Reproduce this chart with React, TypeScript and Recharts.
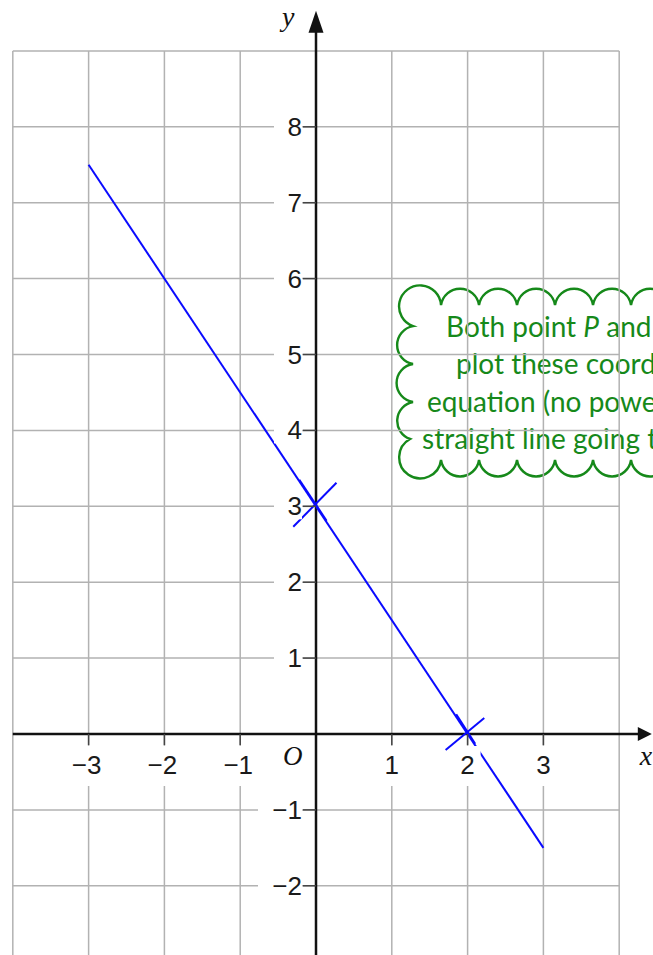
import {
  ComposedChart,
  Line,
  XAxis,
  YAxis,
  ReferenceLine,
  ReferenceDot,
  ReferenceArea,
} from 'recharts';

// grid and axis values
const gridXs = [-4, -3, -2, -1, 0, 1, 2, 3, 4];
const gridYs = [-2, -1, 0, 1, 2, 3, 4, 5, 6, 7, 8, 9];
const xTickValues = [-3, -2, -1, 1, 2, 3];
const yTickValues = [-2, -1, 1, 2, 3, 4, 5, 6, 7, 8];

// the plotted line y = 3 - 1.5x, read at its two ends
const lineXs = [-3, 3];
const lineYs = [7.5, -1.5];

// hand-drawn crosses at P (0, 3) and Q (2, 0)
const crossStrokes = [
  [{ x: -0.3, y: 2.73 }, { x: 0.27, y: 3.31 }],
  [{ x: -0.22, y: 3.35 }, { x: 0.14, y: 2.81 }],
  [{ x: 1.71, y: -0.21 }, { x: 2.22, y: 0.21 }],
  [{ x: 1.85, y: 0.26 }, { x: 2.1, y: -0.13 }],
];

// speech cloud (runs off the right edge, like the original)
const cloudBox = { x1: 1.28, x2: 4.44, y1: 3.61, y2: 5.65 };
const cloudLines = [
  ['Both point ', 'P', ' and Q'],
  ['plot these coordinates'],
  ['equation (no powers)'],
  ['straight line going through'],
];
const cloudLineStarts = [33, 43, 14, 9];

const xDomain = [-4.169, 4.446];
const yDomain = [-2.912, 9.671];

const lineData = lineXs.map((x, i) => ({ x, y: lineYs[i] }));

const GRID = '#b2b2b2';
const AXIS = '#111';
const BLUE = '#0a0aff';
const GREEN = '#16891a';
const TICK_FONT = '"Liberation Sans", Arial, sans-serif';
const MATH_FONT = '"Liberation Serif", "Times New Roman", serif';

function cloudPath(x: number, y: number, h: number) {
  const step = 38;
  const r = 19.2;
  const first = 28;
  const far = x + 340;
  let d = `M ${x} ${y + 21} A 21 21 0 1 1 ${x + first} ${y}`;
  let cx = x + first;
  while (cx < far) {
    cx += step;
    d += ` A ${r} ${r} 0 0 1 ${cx} ${y}`;
  }
  d += ` L ${cx + 20} ${y} L ${cx + 20} ${y + h} L ${cx} ${y + h}`;
  while (cx - step >= x + first - 1) {
    cx -= step;
    d += ` A ${r} ${r} 0 0 1 ${cx} ${y + h}`;
  }
  d += ` A 21 21 0 1 1 ${x - 3} ${y + h - 21}`;
  d += ` A ${r} ${r} 0 0 1 ${x} ${y + h - 58}`;
  d += ` A ${r} ${r} 0 0 1 ${x} ${y + h - 96}`;
  d += ` A ${r} ${r} 0 0 1 ${x} ${y + 21} Z`;
  return d;
}

function Cloud(props: any) {
  const { x, y, height } = props;
  return (
    <g>
      <path d={cloudPath(x, y, height)} fill="#fff" stroke={GREEN} strokeWidth={2.4} />
      {cloudLines.map((parts, i) => (
        <text
          key={i}
          x={x + cloudLineStarts[i]}
          y={y + 32 + i * 37.3}
          fill={GREEN}
          fontSize={28}
          fontFamily="Lato, 'Open Sans', sans-serif"
          fontWeight={400}
        >
          {parts.map((p, j) => (
            <tspan key={j} fontStyle={p === 'P' ? 'italic' : 'normal'}>
              {p}
            </tspan>
          ))}
        </text>
      ))}
    </g>
  );
}

function YTick({ cx, cy, value }: { cx: number; cy: number; value: number }) {
  const label = value < 0 ? `\u2212${-value}` : `${value}`;
  const w = value < 0 ? 44 : 28;
  return (
    <g>
      <rect x={cx - 14 - w} y={cy - 13} width={w} height={26} fill="#fff" />
      <line x1={cx - 13} x2={cx} y1={cy} y2={cy} stroke="#444" strokeWidth={1.5} />
      <text x={cx - 14} y={cy + 9} textAnchor="end" fontSize={26} fontFamily={TICK_FONT} fill="#1a1a1a">
        {label}
      </text>
    </g>
  );
}

function XTick({ cx, cy, value }: { cx: number; cy: number; value: number }) {
  const label = value < 0 ? `\u2212${-value}` : `${value}`;
  const w = value < 0 ? 44 : 26;
  return (
    <g>
      <rect x={cx - w / 2 - (value < 0 ? 2 : 0)} y={cy + 12} width={w} height={40} fill="#fff" />
      <line x1={cx} x2={cx} y1={cy} y2={cy + 11} stroke="#444" strokeWidth={1.5} />
      <text x={value < 0 ? cx - 2 : cx} y={cy + 40} textAnchor="middle" fontSize={26} fontFamily={TICK_FONT} fill="#1a1a1a">
        {label}
      </text>
    </g>
  );
}

export default function App() {
  return (
    <div style={{ position: 'absolute', left: 0, top: 0, width: 653, height: 955, background: '#fff', overflow: 'hidden' }}>
      <ComposedChart width={653} height={955} margin={{ top: 0, right: 0, bottom: 0, left: 0 }}>
        <XAxis dataKey="x" type="number" domain={xDomain} allowDataOverflow hide />
        <YAxis dataKey="y" type="number" domain={yDomain} allowDataOverflow hide />

        {gridXs.map((gx) => (
          <ReferenceLine
            key={`gx${gx}`}
            segment={[{ x: gx, y: yDomain[0] }, { x: gx, y: 9 }]}
            stroke={GRID}
            strokeWidth={1.5}
            ifOverflow="visible"
          />
        ))}
        {gridYs.map((gy) => (
          <ReferenceLine
            key={`gy${gy}`}
            segment={[{ x: -4, y: gy }, { x: 4, y: gy }]}
            stroke={GRID}
            strokeWidth={1.5}
            ifOverflow="visible"
          />
        ))}

        <ReferenceArea
          x1={cloudBox.x1}
          x2={cloudBox.x2}
          y1={cloudBox.y1}
          y2={cloudBox.y2}
          ifOverflow="visible"
          shape={(p: any) => <Cloud {...p} />}
        />

        {/* axes */}
        <ReferenceLine segment={[{ x: -4, y: 0 }, { x: 4.3, y: 0 }]} stroke={AXIS} strokeWidth={2.5} ifOverflow="visible" />
        <ReferenceLine segment={[{ x: 0, y: yDomain[0] }, { x: 0, y: 9.35 }]} stroke={AXIS} strokeWidth={2.5} ifOverflow="visible" />
        <ReferenceDot
          x={0}
          y={9.53}
          ifOverflow="visible"
          shape={(p: any) => (
            <g>
              <path d={`M ${p.cx} ${p.cy} L ${p.cx + 7.5} ${p.cy + 22} L ${p.cx - 7.5} ${p.cy + 22} Z`} fill={AXIS} />
              <text x={p.cx - 34} y={p.cy + 15} fontSize={28} fontStyle="italic" fontFamily={MATH_FONT} fill="#111">
                y
              </text>
            </g>
          )}
        />
        <ReferenceDot
          x={4.43}
          y={0}
          ifOverflow="visible"
          shape={(p: any) => (
            <g>
              <path d={`M ${p.cx} ${p.cy} L ${p.cx - 14} ${p.cy - 7} L ${p.cx - 14} ${p.cy + 7} Z`} fill={AXIS} />
              <text x={p.cx - 12} y={p.cy + 31} fontSize={28} fontStyle="italic" fontFamily={MATH_FONT} fill="#111">
                x
              </text>
            </g>
          )}
        />
        <ReferenceDot
          x={0}
          y={0}
          ifOverflow="visible"
          shape={(p: any) => (
            <text x={p.cx - 33} y={p.cy + 31} fontSize={27} fontStyle="italic" fontFamily={MATH_FONT} fill="#111">
              O
            </text>
          )}
        />

        {yTickValues.map((v) => (
          <ReferenceDot key={`yt${v}`} x={0} y={v} ifOverflow="visible" shape={(p: any) => <YTick cx={p.cx} cy={p.cy} value={v} />} />
        ))}
        {xTickValues.map((v) => (
          <ReferenceDot key={`xt${v}`} x={v} y={0} ifOverflow="visible" shape={(p: any) => <XTick cx={p.cx} cy={p.cy} value={v} />} />
        ))}

        {crossStrokes.map((seg, i) => (
          <ReferenceLine key={`cr${i}`} segment={seg} stroke={BLUE} strokeWidth={2} ifOverflow="visible" />
        ))}

        <Line
          data={lineData}
          dataKey="y"
          type="linear"
          stroke={BLUE}
          strokeWidth={2}
          dot={false}
          activeDot={false}
          isAnimationActive={false}
        />
      </ComposedChart>
    </div>
  );
}
